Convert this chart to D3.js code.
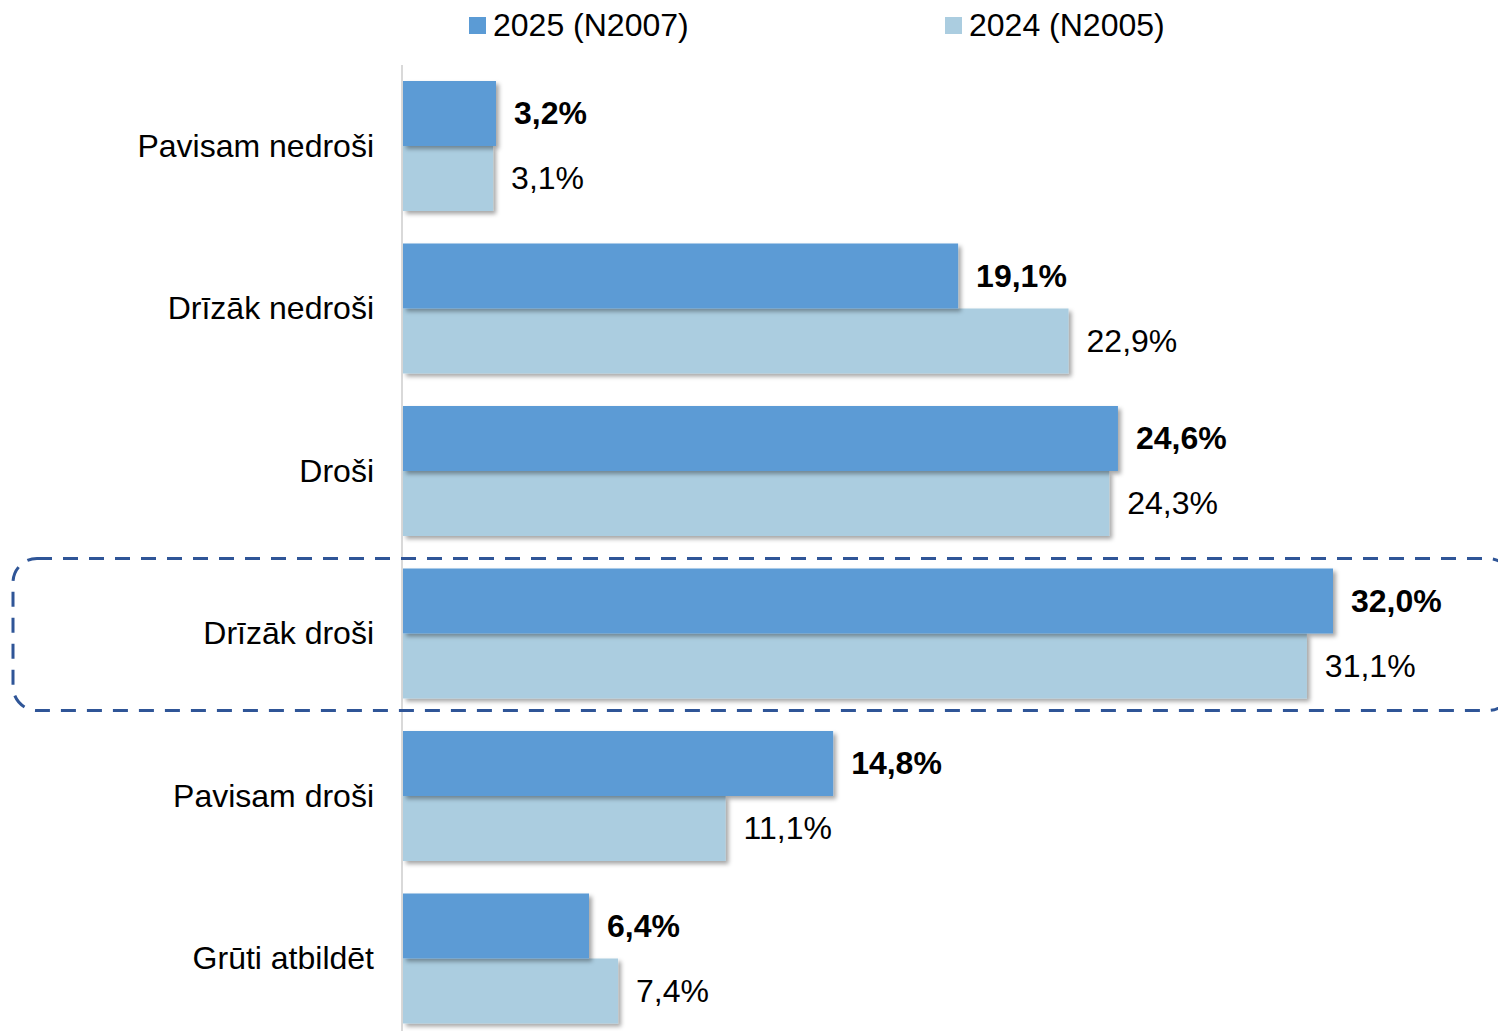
<!DOCTYPE html>
<html>
<head>
<meta charset="utf-8">
<script src="https://cdn.jsdelivr.net/npm/d3@7"></script>
<style>
  body { margin: 0; background: #fff; }
  svg { display: block; font-family: "Liberation Sans", Arial, sans-serif; }
</style>
</head>
<body>
<div id="chart"></div>
<script>
/**
 * DATA
 * */
const categories = [
  "Pavisam nedroši",
  "Drīzāk nedroši",
  "Droši",
  "Drīzāk droši",
  "Pavisam droši",
  "Grūti atbildēt"
];
const series = ["2025 (N2007)", "2024 (N2005)"];
const values2025 = [3.2, 19.1, 24.6, 32.0, 14.8, 6.4];
const values2024 = [3.1, 22.9, 24.3, 31.1, 11.1, 7.4];
const highlighted = "Drīzāk droši";

/**
 * CONSTANTS
 * */
const width = 1498,
  height = 1031;
const colors = { "2025 (N2007)": "#5b9bd5", "2024 (N2005)": "#abcde0" };
const fontSize = 32;

const rows = categories.map((c, i) => ({
  category: c,
  bars: [
    { key: series[0], value: values2025[i] },
    { key: series[1], value: values2024[i] }
  ]
}));

const svg = d3
  .select("#chart")
  .append("svg")
  .attr("width", width)
  .attr("height", height);

// soft shadow like the office chart
const defs = svg.append("defs");
const f = defs
  .append("filter")
  .attr("id", "shadow")
  .attr("x", "-5%")
  .attr("y", "-20%")
  .attr("width", "120%")
  .attr("height", "150%");
f.append("feDropShadow")
  .attr("dx", 3)
  .attr("dy", 3)
  .attr("stdDeviation", 2)
  .attr("flood-color", "#000")
  .attr("flood-opacity", 0.35);

// scales
const x = d3.scaleLinear().domain([0, 32]).range([403, 1333]);
const y = d3
  .scaleBand()
  .domain(categories)
  .range([64.75, 1039.75])
  .paddingInner(0.2)
  .paddingOuter(0.1);
const ySub = d3.scaleBand().domain(series).range([0, y.bandwidth()]);

// axis line (no ticks)
svg
  .append("line")
  .attr("x1", 402)
  .attr("x2", 402)
  .attr("y1", 65)
  .attr("y2", height)
  .attr("stroke", "#d9d9d9")
  .attr("stroke-width", 2);

// bars
const groups = svg
  .selectAll(".row")
  .data(rows)
  .join("g")
  .attr("class", "row")
  .attr("transform", d => `translate(0,${y(d.category)})`);

// draw the 2024 bar first so the 2025 shadow sits on top of it
groups
  .selectAll("rect")
  .data(d => d.bars.slice().reverse())
  .join("rect")
  .attr("x", x(0))
  .attr("y", d => ySub(d.key))
  .attr("width", d => x(d.value) - x(0))
  .attr("height", ySub.bandwidth())
  .attr("fill", d => colors[d.key])
  .attr("filter", "url(#shadow)");

// value labels
const fmt = v => d3.format(".1f")(v).replace(".", ",") + "%";
groups
  .selectAll("text.value")
  .data(d => d.bars)
  .join("text")
  .attr("class", "value")
  .attr("x", d => x(d.value) + 18)
  .attr("y", d => ySub(d.key) + ySub.bandwidth() / 2)
  .attr("dy", "0.34em")
  .attr("font-size", fontSize)
  .attr("font-weight", d => (d.key === series[0] ? "bold" : "normal"))
  .attr("fill", "#000")
  .text(d => fmt(d.value));

// category labels
groups
  .append("text")
  .attr("x", 374)
  .attr("y", y.bandwidth() / 2)
  .attr("dy", "0.34em")
  .attr("text-anchor", "end")
  .attr("font-size", fontSize)
  .attr("fill", "#000")
  .text(d => d.category);

// dashed highlight box, runs past the right edge
svg
  .append("rect")
  .attr("x", 13)
  .attr("y", y(highlighted) - 10)
  .attr("width", 1512 - 13)
  .attr("height", y.bandwidth() + 22)
  .attr("rx", 24)
  .attr("fill", "none")
  .attr("stroke", "#2f5597")
  .attr("stroke-width", 3)
  .attr("stroke-dasharray", "15,11");

// legend
const legendX = [469, 945];
const legend = svg
  .selectAll(".legend")
  .data(series)
  .join("g")
  .attr("class", "legend")
  .attr("transform", (d, i) => `translate(${legendX[i]},17)`);
legend
  .append("rect")
  .attr("width", 17)
  .attr("height", 17)
  .attr("fill", d => colors[d]);
legend
  .append("text")
  .attr("x", 24)
  .attr("y", 8)
  .attr("dy", "0.34em")
  .attr("font-size", fontSize)
  .attr("fill", "#000")
  .text(d => d);
</script>
</body>
</html>
